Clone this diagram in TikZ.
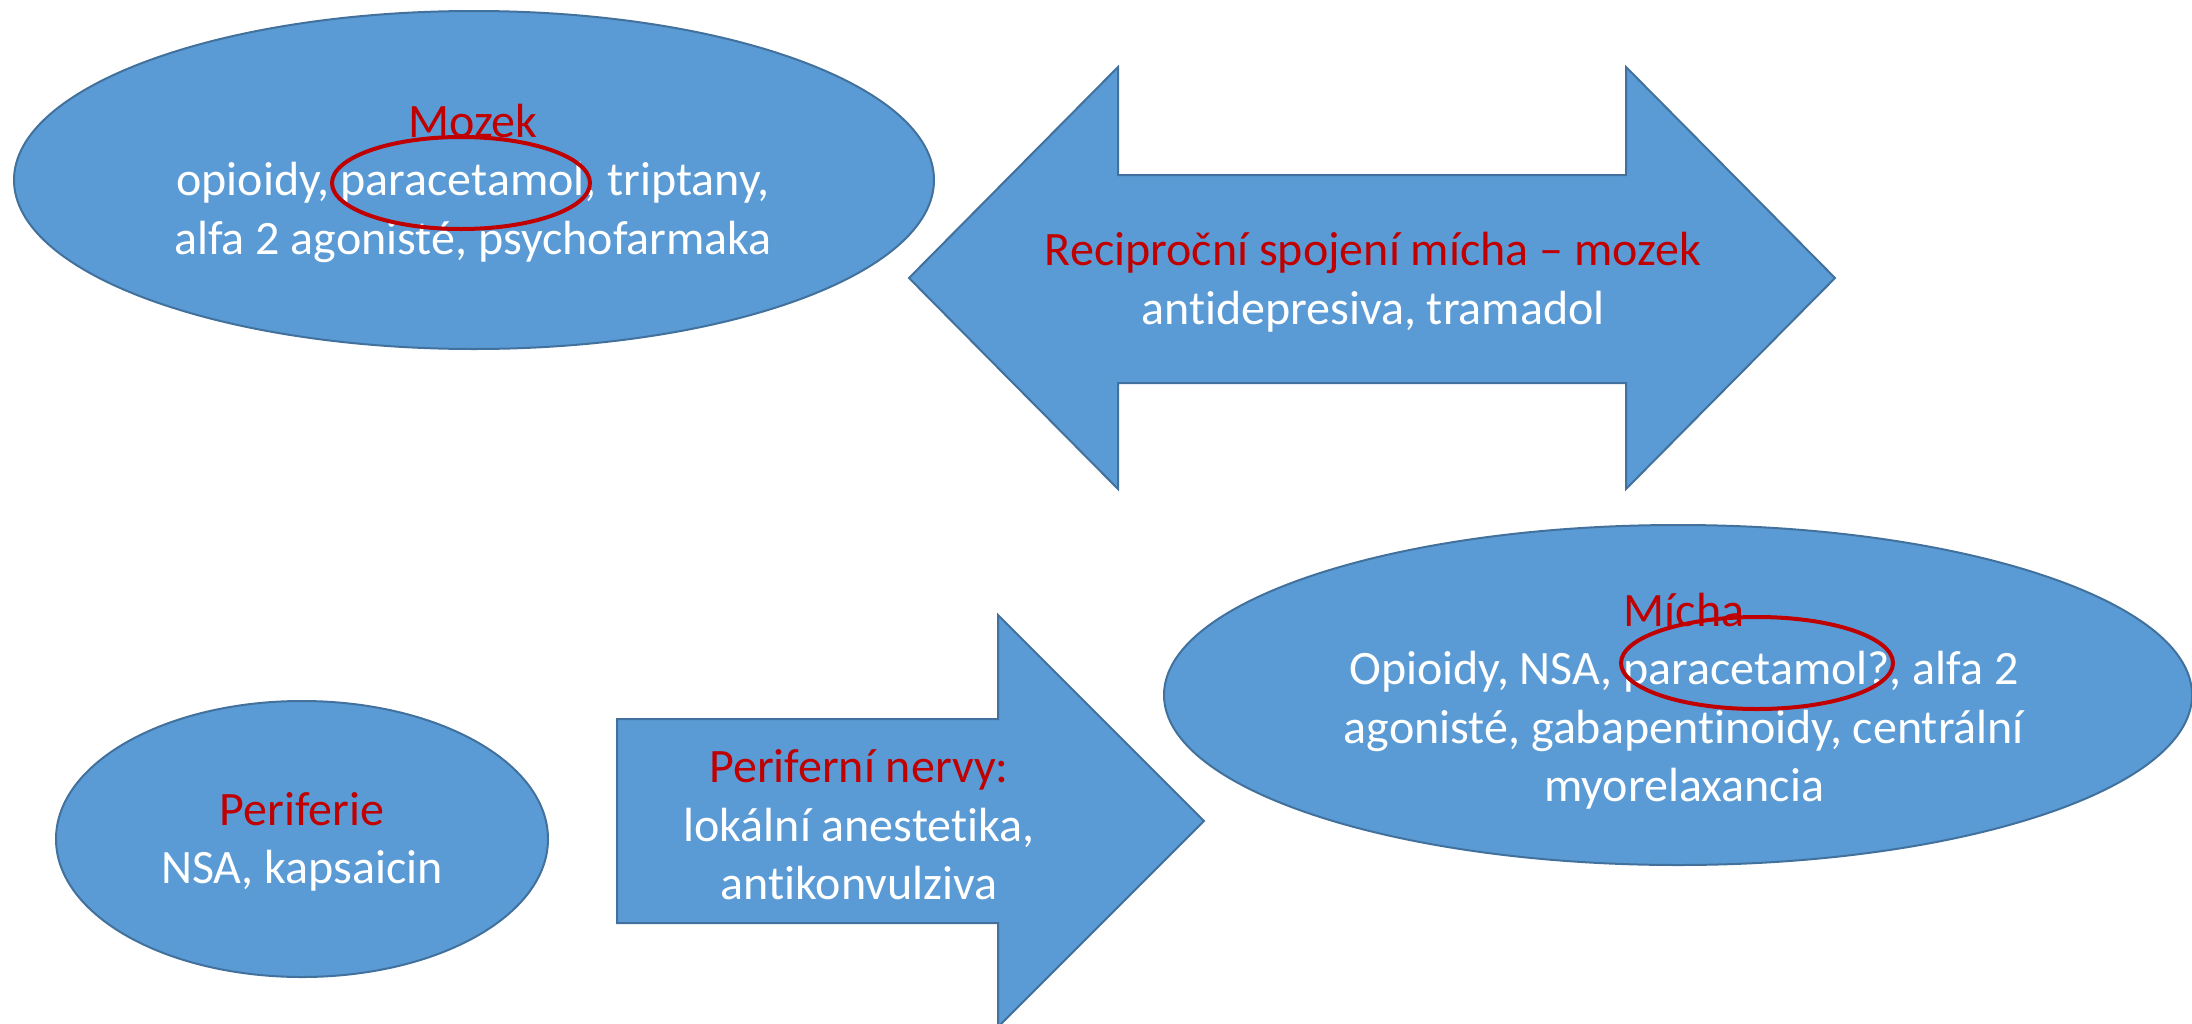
\documentclass[tikz,border=0pt]{standalone}
\usepackage{fontspec}
\setmainfont{Carlito}[RawFeature={-liga}]
\usetikzlibrary{shapes.geometric}
\definecolor{shapefill}{HTML}{5B9BD5}
\definecolor{shapeline}{HTML}{41719C}
\definecolor{redtxt}{HTML}{C00000}
\tikzset{
  blob/.style={ellipse, fill=shapefill, draw=shapeline, line width=2pt, inner sep=0pt},
  arrowshape/.style={fill=shapefill, draw=shapeline, line width=2pt, line join=miter},
  label/.style={align=center, text=white, font=\fontsize{48}{58.5}\selectfont, inner sep=0pt},
  ring/.style={ellipse, draw=redtxt, line width=4pt, inner sep=0pt},
}
\begin{document}
\begin{tikzpicture}[x=1pt, y=-1pt]
\useasboundingbox (0,0) rectangle (2192,1023);
% ellipses
\node[blob, minimum width=920pt, minimum height=338pt] (mozek) at (474,180) {};
\node[blob, minimum width=1028pt, minimum height=340pt] (micha) at (1678,695) {};
\node[blob, minimum width=492pt, minimum height=276pt] (periferie) at (302,839) {};
% double arrow
\path[arrowshape] (909,278) -- (1118,67) -- (1118,175) -- (1626,175) -- (1626,67)
  -- (1835,278) -- (1626,489) -- (1626,383) -- (1118,383) -- (1118,489) -- cycle;
% right arrow
\path[arrowshape] (617,719) -- (998,719) -- (998,615) -- (1204,821) -- (998,1027)
  -- (998,923) -- (617,923) -- cycle;
% texts
\node[label] (tmozek) at (473,183) {\textcolor{redtxt}{Mozek}\\opioidy, paracetamol, triptany,\\alfa 2 agonisté, psychofarmaka};
\node[label] (trecip) at (1373,282) {\textcolor{redtxt}{Reciproční spojení mícha – mozek}\\antidepresiva, tramadol};
\node[label] (tmicha) at (1684,701) {\textcolor{redtxt}{Mícha}\\Opioidy, NSA, paracetamol?, alfa 2\\agonisté, gabapentinoidy, centrální\\myorelaxancia};
\node[label] (tperif) at (302,842) {\textcolor{redtxt}{Periferie}\\NSA, kapsaicin};
\node[label] (tnervy) at (859,825) {\textcolor{redtxt}{Periferní nervy:}\\lokální anestetika,\\antikonvulziva};
% red rings
\node[ring, minimum width=258pt, minimum height=92pt] (ring1) at (461,183) {};
\node[ring, minimum width=272pt, minimum height=92pt] (ring2) at (1757,663) {};
\end{tikzpicture}
\end{document}
